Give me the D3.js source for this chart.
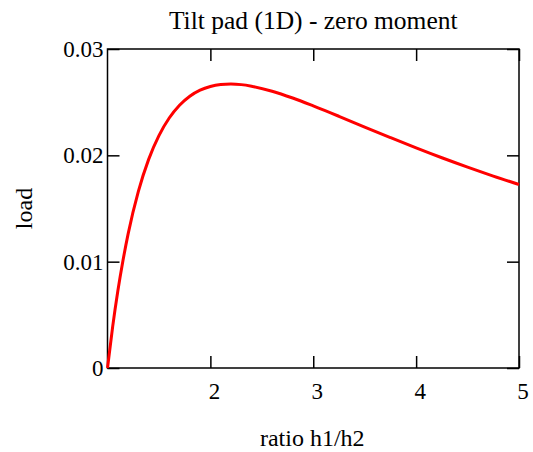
<!DOCTYPE html>
<html>
<head>
<meta charset="utf-8">
<script src="https://cdn.jsdelivr.net/npm/d3@7"></script>
<style>
  body { margin: 0; background: #fff; }
  text { font-family: "Liberation Serif", "Times New Roman", serif; fill: #000; }
</style>
</head>
<body>
<svg id="chart"></svg>
<script>
var w = 533, h = 452;
var margin = {top: 49, right: 14, bottom: 84, left: 107.5};

// values
var ratio = [1, 1.05, 1.1, 1.15, 1.2, 1.3, 1.4, 1.5, 1.6, 1.7, 1.8, 1.9, 2.0, 2.1, 2.2, 2.3, 2.4, 2.6, 2.8, 3.0, 3.25, 3.5, 3.75, 4.0, 4.25, 4.5, 4.75, 5.0];
var load = [0, 0.00387, 0.00721, 0.01008, 0.01259, 0.01661, 0.01962, 0.02186, 0.02351, 0.02471, 0.02556, 0.02613, 0.02648, 0.02666, 0.02671, 0.02665, 0.02650, 0.02603, 0.02539, 0.02465, 0.02367, 0.02266, 0.02167, 0.02070, 0.01977, 0.01889, 0.01805, 0.01726];
var xTicks = [2, 3, 4, 5];
var yTicks = [0, 0.01, 0.02, 0.03];
var yTickLabels = ["0", "0.01", "0.02", "0.03"];
var title = "Tilt pad (1D) - zero moment";
var xTitle = "ratio h1/h2";
var yTitle = "load";

var iw = w - margin.left - margin.right,
    ih = h - margin.top - margin.bottom;

var svg = d3.select("#chart").attr("width", w).attr("height", h);
var g = svg.append("g").attr("transform", "translate(" + margin.left + "," + margin.top + ")");

var x = d3.scaleLinear().domain([1, 5]).range([0, iw]);
var y = d3.scaleLinear().domain([0, 0.03]).range([ih, 0]);

// inward ticks on all four sides
var tickLen = 12;
function noDomain(sel) { sel.select(".domain").remove(); sel.selectAll("text").remove(); }

g.append("g").attr("transform", "translate(0," + ih + ")")
  .call(d3.axisTop(x).tickValues(xTicks).tickSize(tickLen)).call(noDomain);
g.append("g")
  .call(d3.axisBottom(x).tickValues(xTicks).tickSize(tickLen)).call(noDomain);
g.append("g")
  .call(d3.axisRight(y).tickValues(yTicks).tickSize(tickLen)).call(noDomain);
g.append("g").attr("transform", "translate(" + iw + ",0)")
  .call(d3.axisLeft(y).tickValues(yTicks).tickSize(tickLen)).call(noDomain);
g.selectAll(".tick line").attr("stroke", "#000").attr("stroke-width", 1.5);

// frame
g.append("rect")
  .attr("width", iw).attr("height", ih)
  .attr("fill", "none").attr("stroke", "#000").attr("stroke-width", 1.5);

// tick labels
g.selectAll(".xlab").data(xTicks).enter().append("text")
  .attr("x", function(d) { return x(d) + 4; })
  .attr("y", ih + 31)
  .attr("text-anchor", "middle")
  .style("font-size", "23px")
  .text(function(d) { return d; });

g.selectAll(".ylab").data(yTicks).enter().append("text")
  .attr("x", -4)
  .attr("y", function(d) { return y(d); })
  .attr("dy", "0.35em")
  .attr("text-anchor", "end")
  .style("font-size", "23px")
  .text(function(d, i) { return yTickLabels[i]; });

// curve
var pts = ratio.map(function(r, i) { return [r, load[i]]; });
var line = d3.line()
  .x(function(d) { return x(d[0]); })
  .y(function(d) { return y(d[1]); })
  .curve(d3.curveMonotoneX);

g.append("path")
  .datum(pts)
  .attr("d", line)
  .attr("fill", "none")
  .attr("stroke", "#ff0000")
  .attr("stroke-width", 3);

// titles
svg.append("text")
  .attr("x", margin.left + iw / 2).attr("y", 29)
  .attr("text-anchor", "middle")
  .style("font-size", "25.5px")
  .text(title);

svg.append("text")
  .attr("x", margin.left + iw / 2 - 1).attr("y", 446)
  .attr("text-anchor", "middle")
  .style("font-size", "24px")
  .text(xTitle);

svg.append("text")
  .attr("transform", "translate(32," + (margin.top + ih / 2) + ") rotate(-90)")
  .attr("text-anchor", "middle")
  .style("font-size", "24px")
  .text(yTitle);
</script>
</body>
</html>
